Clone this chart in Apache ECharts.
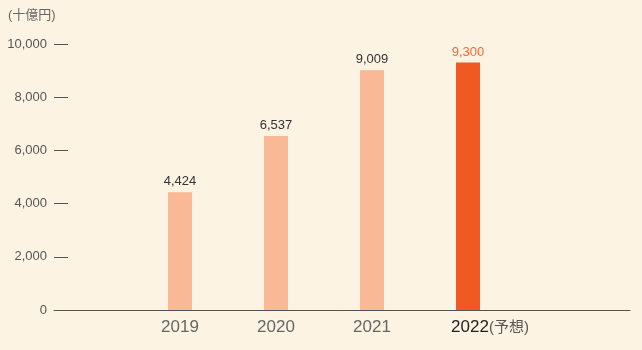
<!DOCTYPE html>
<html><head><meta charset="utf-8">
<script src="https://cdn.jsdelivr.net/npm/echarts@6/dist/echarts.min.js"></script>
<style>html,body{margin:0;padding:0;background:#fdf3e3;}#c{width:642px;height:350px;}</style>
</head><body><div id="c"></div>
<script>
const categories = ['2019', '2020', '2021', '2022'];
const values = [4424, 6537, 9009, 9300];
const yTicks = [0, 2000, 4000, 6000, 8000, 10000];
const unitLabel = '(十億円)';
const forecastNote = '(予想)';

const font = '"Liberation Sans", Arial, "Noto Sans CJK JP", sans-serif';
const chart = echarts.init(document.getElementById('c'), null, {renderer: 'canvas'});
const lastIdx = categories.length - 1;

chart.setOption({
  backgroundColor: '#fdf3e3',
  animation: false,
  textStyle: {fontFamily: font},
  graphic: [{
    type: 'text', left: 8, top: 9,
    style: {text: unitLabel, fill: '#666', font: '13px ' + font}
  }],
  grid: [
    {left: 132, right: 126, top: 44, bottom: 40},
    {left: 54, right: 12, top: 44, bottom: 40}
  ],
  xAxis: [
    {
      type: 'category', gridIndex: 0, data: categories,
      axisLine: {show: false}, axisTick: {show: false},
      axisLabel: {
        interval: 0, margin: 9,
        formatter: (v, i) => i === lastIdx ? '{s|}{b|' + v + '}{n|' + forecastNote + '}' : '{a|' + v + '}',
        rich: {
          a: {fontSize: 17, color: '#666', fontFamily: font},
          b: {fontSize: 17, color: '#222', fontFamily: font},
          n: {fontSize: 15, color: '#555', fontFamily: font},
          s: {width: 44, height: 1}
        }
      }
    },
    {
      type: 'value', gridIndex: 1, min: 0, max: 1,
      axisLine: {show: true, lineStyle: {color: '#555', width: 1}},
      axisTick: {show: false}, axisLabel: {show: false}, splitLine: {show: false}
    }
  ],
  yAxis: [
    {
      type: 'value', gridIndex: 0, min: 0, max: 10000, interval: 2000,
      show: false
    },
    {
      type: 'value', gridIndex: 1, min: yTicks[0], max: yTicks[yTicks.length - 1], interval: 2000,
      axisLine: {show: false},
      axisTick: {show: true, inside: true, length: 14, lineStyle: {color: '#555', width: 1}},
      axisLabel: {
        margin: 7, fontSize: 13, color: '#555', fontFamily: font,
        formatter: v => v.toLocaleString('en-US')
      },
      splitLine: {show: false}
    }
  ],
  series: [{
    type: 'bar', xAxisIndex: 0, yAxisIndex: 0,
    barWidth: 24,
    data: values.map((v, i) => ({
      value: v,
      itemStyle: {color: i === lastIdx ? '#f05a22' : '#f9b996'},
      label: {color: i === lastIdx ? '#f26a3a' : '#333'}
    })),
    label: {
      show: true, position: 'top', distance: 4, fontSize: 13, fontFamily: font,
      formatter: p => p.value.toLocaleString('en-US')
    }
  }]
});
</script></body></html>
